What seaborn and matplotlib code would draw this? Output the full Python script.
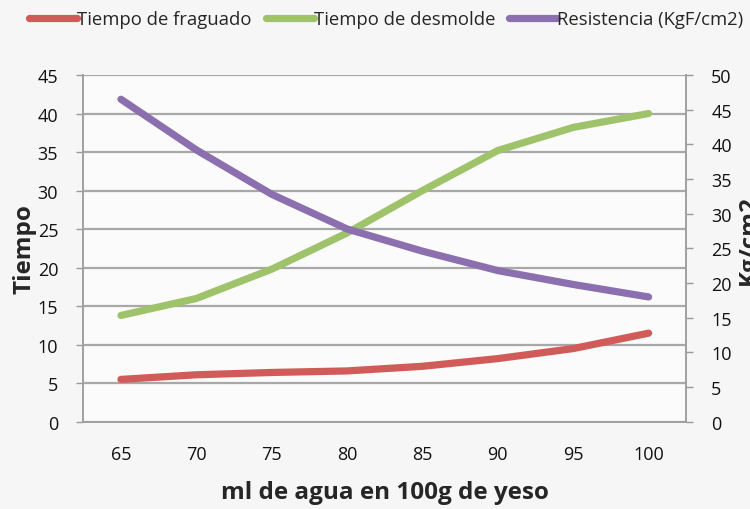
import matplotlib
matplotlib.use("Agg")
import matplotlib.pyplot as plt
import seaborn as sns
import pandas as pd
from matplotlib.ticker import FixedLocator

# ==============================
# DATA
# ==============================

agua = [65, 70, 75, 80, 85, 90, 95, 100]
fraguado = [5.5, 6.1, 6.4, 6.6, 7.2, 8.2, 9.5, 11.5]
desmolde = [13.8, 16.0, 19.8, 24.5, 30.0, 35.2, 38.2, 40.0]
resistencia = [46.5, 39.2, 32.8, 27.8, 24.6, 21.8, 19.8, 18.0]

left_ticks = [0, 5, 10, 15, 20, 25, 30, 35, 40, 45]
right_ticks = [0, 5, 10, 15, 20, 25, 30, 35, 40, 45, 50]

RED = "#d05b58"
GREEN = "#9fc36a"
PURPLE = "#8c6fae"

# ==============================
# STYLE
# ==============================

sns.set_theme(style="white")
plt.rcParams["font.family"] = ["Open Sans", "DejaVu Sans"]

df = pd.DataFrame({
    "pos": range(len(agua)),
    "fraguado": fraguado,
    "desmolde": desmolde,
    "resistencia": resistencia,
})

fig = plt.figure(figsize=(7.5, 5.1), dpi=100, facecolor="#f6f6f6")
ax = fig.add_axes([0.111, 0.171, 0.804, 0.680])
ax.set_facecolor("#fbfbfb")
ax2 = ax.twinx()

# ==============================
# LINES
# ==============================

lw = 5.2
sns.lineplot(data=df, x="pos", y="fraguado", ax=ax, color=RED, linewidth=lw,
             solid_capstyle="round", solid_joinstyle="round",
             label="Tiempo de fraguado", legend=False, zorder=3)
sns.lineplot(data=df, x="pos", y="desmolde", ax=ax, color=GREEN, linewidth=lw,
             solid_capstyle="round", solid_joinstyle="round",
             label="Tiempo de desmolde", legend=False, zorder=3)
sns.lineplot(data=df, x="pos", y="resistencia", ax=ax2, color=PURPLE, linewidth=lw,
             solid_capstyle="round", solid_joinstyle="round",
             label="Resistencia (KgF/cm2)", legend=False, zorder=3)

# ==============================
# AXES
# ==============================

ax.set_xlim(-0.5, len(agua) - 0.5)
ax.set_ylim(0, 45)
ax2.set_ylim(0, 50)

ax.set_xticks(range(len(agua)))
ax.set_xticklabels([str(a) for a in agua])
ax.xaxis.set_minor_locator(FixedLocator([i - 0.5 for i in range(len(agua) + 1)]))
ax.tick_params(axis="x", which="major", length=0, pad=17, labelsize=13, colors="#111111")
ax.tick_params(axis="x", which="minor", length=5, width=1, color="#999999", direction="out")

ax.set_yticks(left_ticks)
ax.tick_params(axis="y", length=5, width=1, direction="out",
               pad=13, labelsize=13, colors="#111111")
ax.tick_params(axis="y", color="#999999")
ax2.set_yticks(right_ticks)
ax2.tick_params(axis="y", length=5, width=1, direction="out",
                pad=13, labelsize=13, colors="#111111")
ax2.tick_params(axis="y", color="#999999")

ax.grid(axis="y", color="#a8a8a8", linewidth=1.6)
ax.set_axisbelow(True)

for a in (ax, ax2):
    for s in a.spines.values():
        s.set_color("#a0a0a0")
        s.set_linewidth(1.2)
ax.spines["top"].set_visible(False)
ax2.spines["top"].set_visible(False)

ax.set_xlabel("ml de agua en 100g de yeso", fontsize=17.5, fontweight="bold")
ax.xaxis.set_label_coords(0.5, -0.168)
ax.set_ylabel("Tiempo", fontsize=17.5, fontweight="bold")
ax.yaxis.set_label_coords(-0.078, 0.5)
ax2.set_ylabel("")

fig.text(0.983, 0.53, "Kg/cm2", rotation=90, ha="left", va="center",
         fontsize=17.5, fontweight="bold")

# ==============================
# LEGEND
# ==============================

handles = ax.get_lines()[:2] + ax2.get_lines()[:1]
labels = ["Tiempo de fraguado", "Tiempo de desmolde", "Resistencia (KgF/cm2)"]
fig.legend(handles, labels, loc="center", bbox_to_anchor=(0.515, 0.96), ncol=3,
           frameon=False, fontsize=13.3, handlelength=2.6, handletextpad=0.0,
           columnspacing=0.75)

fig.savefig("out.png", dpi=100, facecolor=fig.get_facecolor())
